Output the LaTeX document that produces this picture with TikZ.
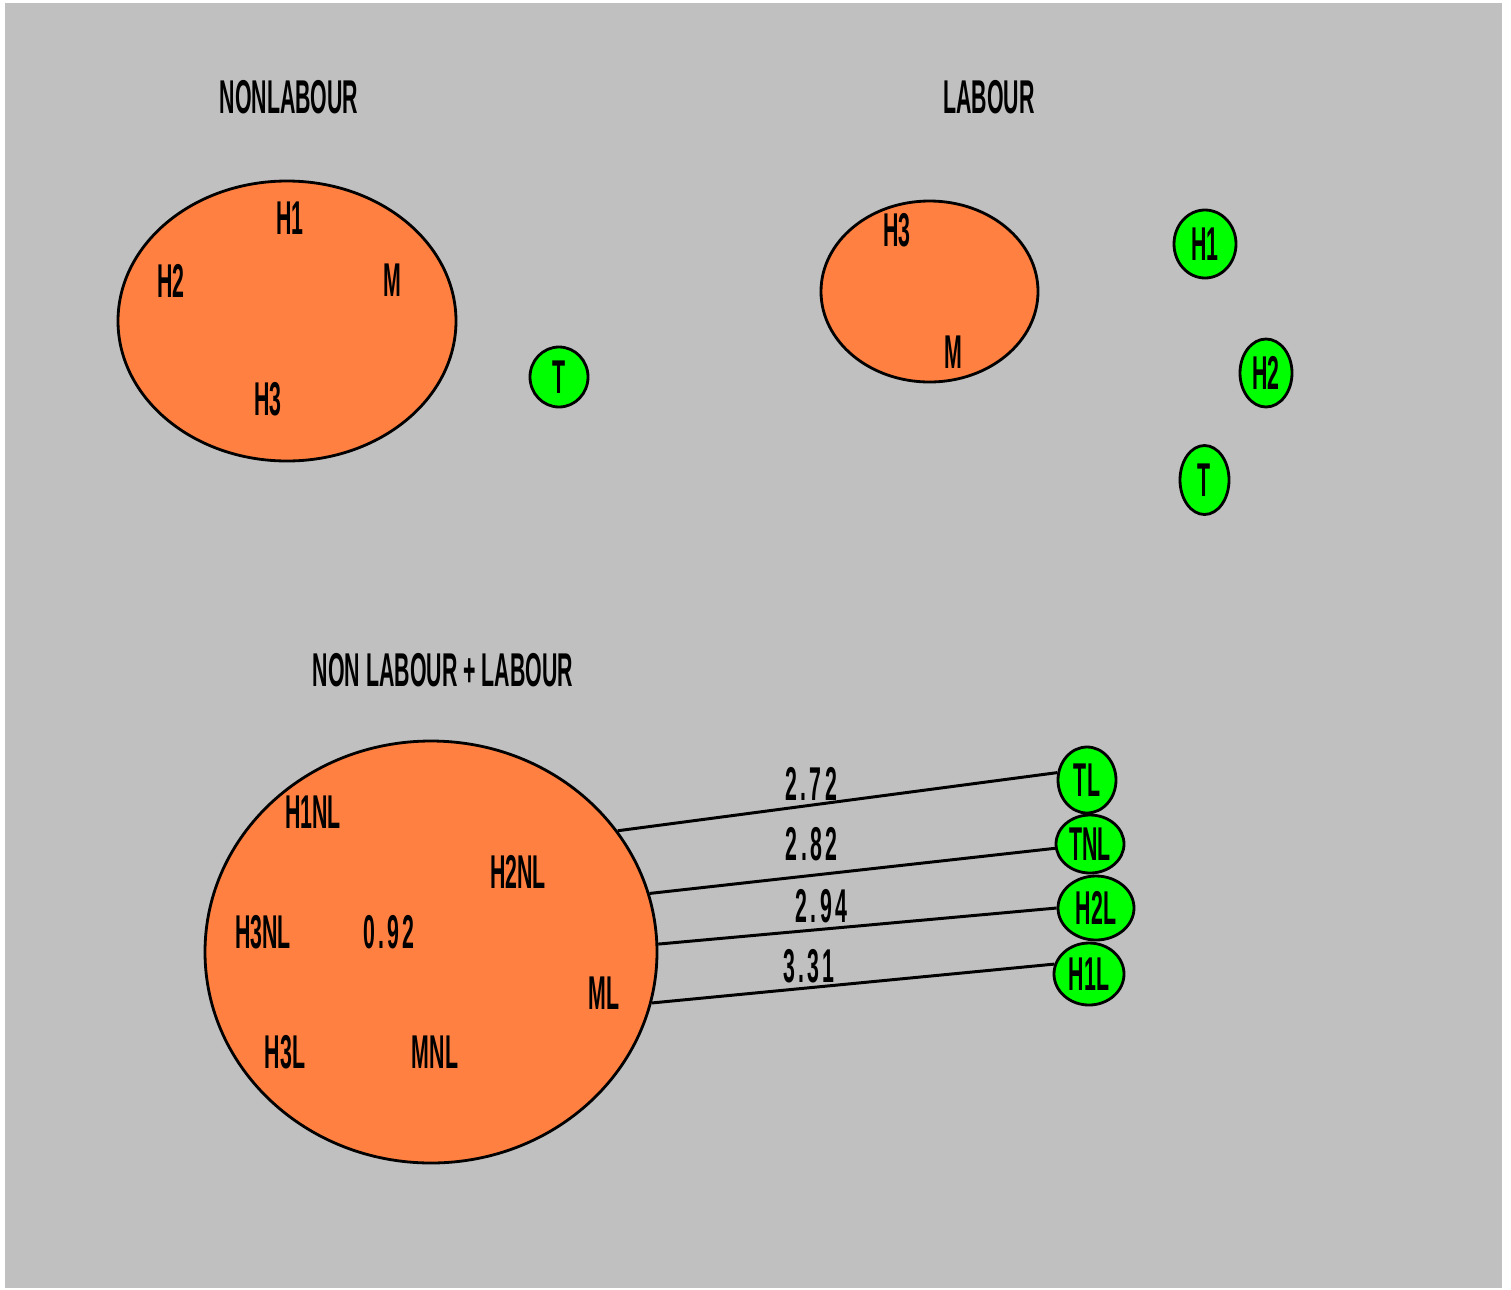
\documentclass[tikz,border=0pt]{standalone}
\usepackage{fontspec}
\newfontfamily\pixfont[FakeStretch=0.45]{Liberation Sans}
\newfontfamily\pixnumfont[FakeStretch=0.45, LetterSpace=7]{Liberation Sans}
\usetikzlibrary{shapes.geometric}
\definecolor{panel}{RGB}{192,192,192}
\definecolor{setfill}{RGB}{255,128,64}
\definecolor{unitfill}{RGB}{0,255,0}
\tikzset{
	pix/.style={font=\pixfont\bfseries\fontsize{27}{27}\selectfont, inner sep=0pt},
	pixnum/.style={font=\pixnumfont\bfseries\fontsize{27}{27}\selectfont, inner sep=0pt},
	cluster/.style 2 args={ellipse, draw=black, line width=1.6pt, fill=setfill, inner sep=0pt, minimum width=#1*0.02cm, minimum height=#2*0.02cm},
	single/.style 2 args={ellipse, draw=black, line width=1.6pt, fill=unitfill, inner sep=0pt, minimum width=#1*0.02cm, minimum height=#2*0.02cm, pix},
	link/.style={black, line width=1.7pt},
	dist/.style={pixnum, above=#1*0.02cm}
}
\begin{document}
\begin{tikzpicture}[x=0.02cm, y=-0.02cm]
			\useasboundingbox[fill=white] (0,0) rectangle (1511,1289);
			\fill[panel] (5,3) rectangle (1502,1288);
			\node[pix] (t-nonlab) at (289,97) {NONLABOUR};
			\node[pix] (t-lab) at (989,97) {LABOUR};
			\node[pix] (t-all) at (443,670) {NON LABOUR + LABOUR};
			\node[cluster={338}{280}] (nonlab) at (287,321) {};
			\node[pix] (nl-h1) at (290,218) {H1};
			\node[pix] (nl-h2) at (171,281) {H2};
			\node[pix] (nl-m) at (392,280) {M};
			\node[pix] (nl-h3) at (268,399) {H3};
			\node[single={58}{60}] (nl-t) at (559,377) {T};
			\node[cluster={217}{181}] (lab) at (929.5,291.5) {};
			\node[pix] (l-h3) at (897,230) {H3};
			\node[pix] (l-m) at (953,352) {M};
			\node[single={62}{68}] (l-h1) at (1205,244) {H1};
			\node[single={52}{68}] (l-h2) at (1266,373) {H2};
			\node[single={49}{69}] (l-t) at (1204.5,480) {T};
			\node[cluster={452}{422}] (all) at (431,952) {};
			\node[pix] (a-h1nl) at (313,812) {H1NL};
			\node[pix] (a-h2nl) at (518,872) {H2NL};
			\node[pix] (a-h3nl) at (263,932) {H3NL};
			\node[pixnum] (a-val) at (389,932) {0.92};
			\node[pix] (a-ml) at (604,993) {ML};
			\node[pix] (a-h3l) at (285,1052) {H3L};
			\node[pix] (a-mnl) at (435,1052) {MNL};
			\node[single={58}{66}] (tl) at (1087,780) {TL};
			\node[single={68}{58}] (tnl) at (1090,844) {TNL};
			\node[single={76}{64}] (h2l) at (1096,908) {H2L};
			\node[single={70}{62}] (h1l) at (1089,974) {H1L};
			\draw[link] (all.33) -- (tl.166) node[dist=3, pos=0.44] {2.72};
			\draw[link] (all.15) -- (tnl.187) node[dist=13, pos=0.40] {2.82};
			\draw[link] (all.2.5) -- (h2l.180) node[dist=5, pos=0.41] {2.94};
			\draw[link] (all.-13) -- (h1l.164) node[dist=3, pos=0.39] {3.31};
\end{tikzpicture}
\end{document}
